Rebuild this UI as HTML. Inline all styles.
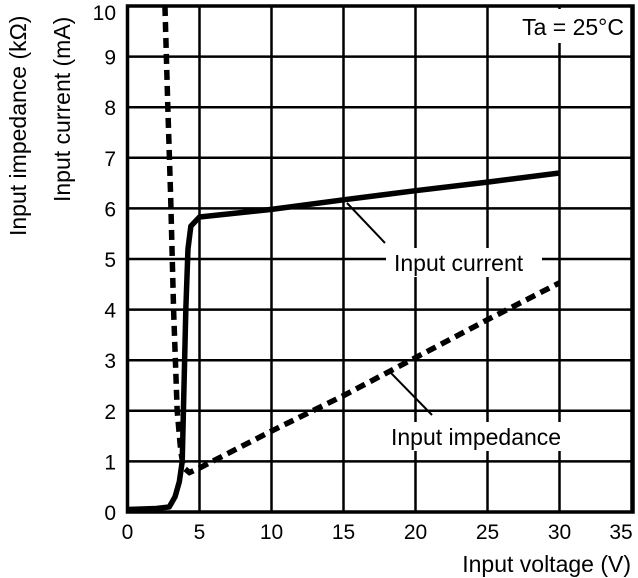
<!DOCTYPE html>
<html><head><meta charset="utf-8"><style>
html,body{margin:0;padding:0;background:#fff}
svg{display:block;font-family:"Liberation Sans",sans-serif}
</style></head><body>
<svg id="chart" width="638" height="578" viewBox="0 0 638 578">
<g id="grid"></g>
<g id="series"></g>
<rect x="127.5" y="6" width="505.5" height="506" fill="none" stroke="#000" stroke-width="3.5"/>
<g id="ticks" font-size="21"></g>
<text transform="translate(26,236) rotate(-90)" font-size="23">Input impedance (kΩ)</text>
<text transform="translate(70,202) rotate(-90)" font-size="23">Input current (mA)</text>
<text x="631" y="572" font-size="23" text-anchor="end">Input voltage (V)</text>
<rect x="503" y="9" width="126" height="34" fill="#fff"/>
<text x="624" y="35" font-size="23" text-anchor="end">Ta = 25°C</text>
<line x1="385" y1="243" x2="347" y2="203" stroke="#000" stroke-width="2"/>
<rect x="386" y="248" width="156" height="29" fill="#fff"/>
<text x="394" y="271" font-size="23">Input current</text>
<line x1="432" y1="415" x2="390" y2="372" stroke="#000" stroke-width="2"/>
<rect x="384" y="422" width="194" height="29" fill="#fff"/>
<text x="391" y="445" font-size="23">Input impedance</text>
</svg>
<script>
const xTicks=[0,5,10,15,20,25,30,35];
const yTicks=[0,1,2,3,4,5,6,7,8,9,10];
const currentV=[0,2,2.9,3.3,3.6,3.8,4.05,4.2,4.4,5,10,15,20,25,30];
const currentI=[0.05,0.07,0.1,0.3,0.6,1,4,5.2,5.65,5.83,5.98,6.17,6.35,6.52,6.7];
const impV=[2.6,2.8,3.0,3.2,3.45,3.7,3.85,4.0,4.3,5,10,15,20,25,30];
const impZ=[10,8,6.2,4,2,1.2,0.95,0.85,0.78,0.87,1.6,2.3,3.05,3.8,4.53];
const X=v=>127.5+14.4*v, Y=v=>512-50.6*v;
const NS="http://www.w3.org/2000/svg";
const grid=document.getElementById('grid'),ticks=document.getElementById('ticks'),ser=document.getElementById('series');
function mk(t,a,p){const e=document.createElementNS(NS,t);for(const k in a)e.setAttribute(k,a[k]);p.appendChild(e);return e;}
xTicks.forEach(v=>{
 const l=mk('line',{x1:X(v),x2:X(v),y1:6,y2:512,stroke:'#000','stroke-width':2.5},grid);
 
 
 const t=mk('text',{x:Math.min(X(v),621),y:539,'text-anchor':'middle'},ticks);t.textContent=v;
 
 
});
yTicks.forEach(v=>{
 const l=mk('line',{x1:127.5,x2:633,y1:Y(v),y2:Y(v),stroke:'#000','stroke-width':2.5},grid);
 
 
 const t=mk('text',{x:116,y:Math.max(Y(v)+8,20),'text-anchor':'end'},ticks);t.textContent=v;
 
 
});
const cp=mk('polyline',{points:currentV.map((v,i)=>X(v)+','+Y(currentI[i])).join(' '),fill:'none',stroke:'#000','stroke-width':5.5,'stroke-linejoin':'round'},ser);


const ip=mk('polyline',{points:impV.map((v,i)=>X(v)+','+Y(impZ[i])).join(' '),fill:'none',stroke:'#000','stroke-width':5.5,'stroke-dasharray':'10 6'},ser);


</script>
</body></html>
